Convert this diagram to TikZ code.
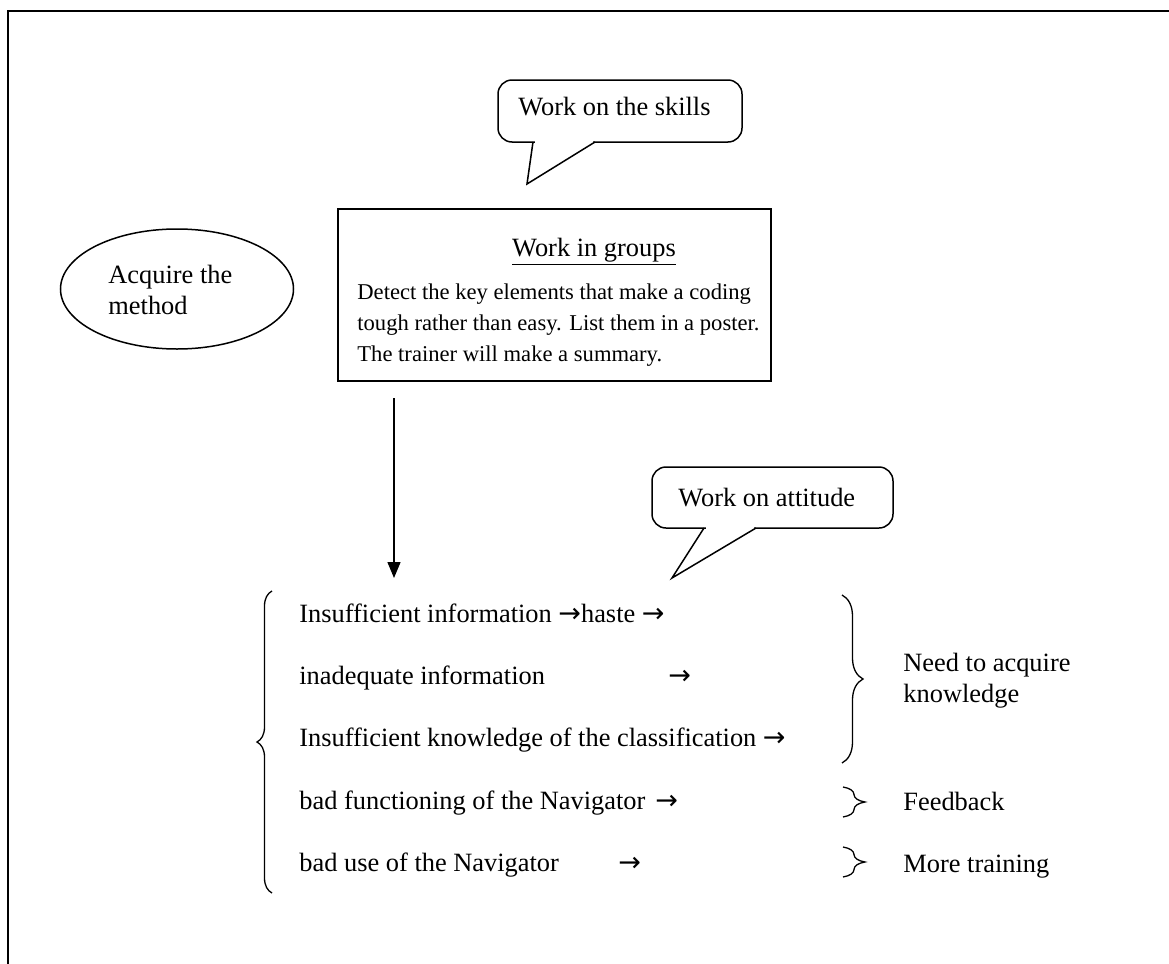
\documentclass[tikz,border=0pt]{standalone}
\usepackage{fontspec}
\setmainfont{Liberation Serif}
\newfontfamily\arrowfont{DejaVu Sans}
\usetikzlibrary{arrows.meta,decorations.pathreplacing,shapes.geometric}
\newcommand{\rarr}{{\arrowfont\fontsize{13.5}{16}\selectfont →}}
\begin{document}
\begin{tikzpicture}[x=0.5pt,y=-0.5pt,
  every node/.style={font=\fontsize{13.2}{16}\selectfont, inner sep=0pt},
  line/.style={line width=0.75pt},
  lbl/.style={anchor=base west},
  small/.style={font=\fontsize{11.3}{14}\selectfont},
  callbox/.style={draw, line, rounded corners=7pt},
  brc/.style={line width=0.65pt, decorate, decoration={brace, amplitude=#1}},
]
\useasboundingbox (0,0) rectangle (1169,964);

% page frame
\draw[line width=1.1pt] (8,964) -- (8,11) -- (1169,11);

% speech bubble: skills
\node[callbox, minimum width=122pt, minimum height=31pt] (skills) at (620,111) {};
\node[lbl] (skillsT) at (518,115) {Work on the skills};
\coordinate (skillsTip) at (527,184);
\fill[white] (535,139) rectangle (593,145);
\draw[line, line join=miter] (533,142) -- (skillsTip) -- (595,142);

% oval: method
\node[draw, line, ellipse, minimum width=116.5pt, minimum height=60pt] (method) at (177,289) {};
\node[lbl] (methodA) at (108,283) {Acquire the};
\node[lbl] (methodB) at (108,314) {method};

% group work box
\node[draw, line, minimum width=216.5pt, minimum height=86pt] (group) at (554.5,295) {};
\node[anchor=base] (groupT) at (594,256) {\underline{Work in groups}};
\node[lbl, small] (g1) at (357,299) {Detect the key elements that make a coding};
\node[lbl, small] (g2) at (357,330) {tough rather than easy. List them in a poster.};
\node[lbl, small] (g3) at (357,361) {The trainer will make a summary.};

% arrow down to the list
\coordinate (downTop) at (394,398);
\coordinate (downEnd) at (394,578);
\draw[line, -{Triangle[length=8pt,width=6.5pt]}] (downTop) -- (downEnd);

% speech bubble: attitude
\node[callbox, minimum width=120.5pt, minimum height=30.5pt] (att) at (772.5,497.5) {};
\node[lbl] (attT) at (678,506) {Work on attitude};
\coordinate (attTip) at (672,578);
\fill[white] (706,525) rectangle (754,531);
\draw[line, line join=miter] (704,528) -- (attTip) -- (756,528);

% list of causes
\draw[brc=7.5pt] (272,893) -- (272,591);
\node[lbl] (c1) at (299,622) {Insufficient information \rarr haste \rarr};
\node[lbl] (c2) at (299,684) {inadequate information};
\node[lbl] (c2a) at (668,684) {\rarr};
\node[lbl] (c3) at (299,746) {Insufficient knowledge of the classification \rarr};
\node[lbl] (c4) at (299,809) {bad functioning of the Navigator};
\node[lbl] (c4a) at (655,809) {\rarr};
\node[lbl] (c5) at (299,871) {bad use of the Navigator};
\node[lbl] (c5a) at (618,871) {\rarr};

% remedies
\draw[brc=10.5pt] (842,595) -- (842,763);
\node[lbl] (r1) at (903,671) {Need to acquire};
\node[lbl] (r1b) at (903,702) {knowledge};
\draw[brc=11pt] (843,787) -- (843,817);
\node[lbl] (r2) at (903,810) {Feedback};
\draw[brc=11pt] (843,847) -- (843,877);
\node[lbl] (r3) at (903,872) {More training};
\end{tikzpicture}
\end{document}
